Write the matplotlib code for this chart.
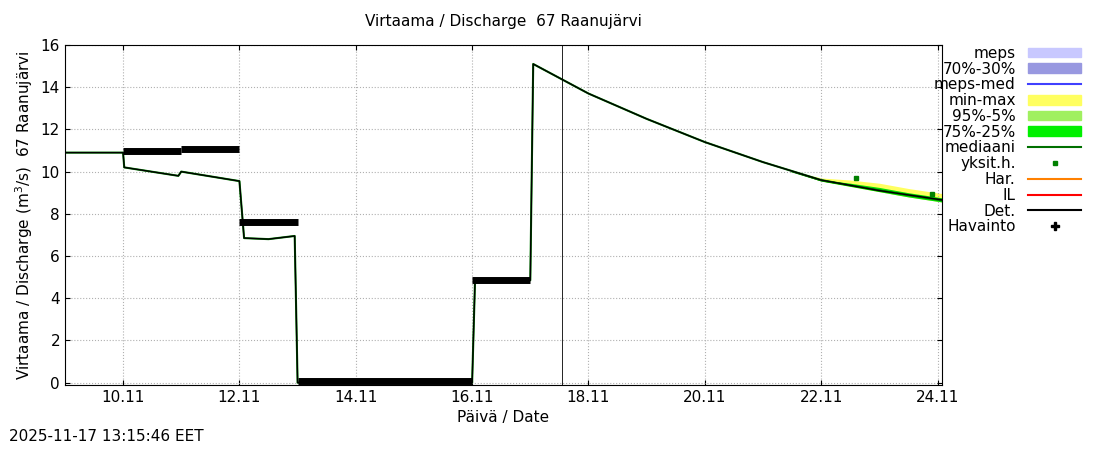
import matplotlib
matplotlib.use("Agg")
import matplotlib.pyplot as plt
from matplotlib.lines import Line2D
from matplotlib.patches import Patch

# x in days of November
det_x = [9.0, 10.0, 10.02, 10.95, 11.0, 12.0, 12.08, 12.5, 12.95, 13.0, 16.0, 16.05, 17.0, 17.05, 18.0, 19.0, 20.0, 21.0, 22.0, 23.0, 24.1]
det_y = [10.9, 10.9, 10.2, 9.8, 10.0, 9.55, 6.85, 6.8, 6.95, 0.0, 0.0, 4.85, 4.85, 15.1, 13.7, 12.5, 11.4, 10.45, 9.6, 9.1, 8.65]
obs_segments = [(10.0, 11.0, 11.0), (11.0, 12.0, 11.05), (12.0, 13.0, 7.6), (13.0, 16.0, 0.1), (16.0, 17.0, 4.85)]
band_x = [21.5, 22.0, 22.5, 23.0, 23.5, 24.1]
minmax_lo = [10.0, 9.55, 9.3, 9.05, 8.8, 8.55]
minmax_hi = [10.02, 9.7, 9.6, 9.45, 9.2, 8.95]
q_lo = [10.0, 9.55, 9.3, 9.05, 8.8, 8.55]
q_hi = [10.01, 9.62, 9.45, 9.25, 9.0, 8.75]
med_y = [10.0, 9.58, 9.35, 9.12, 8.88, 8.62]
single_x = [22.6, 23.9]
single_y = [9.7, 8.95]
xticks = [10, 12, 14, 16, 18, 20, 22, 24]
now_x = 17.55

fig = plt.figure(figsize=(11, 4.5), dpi=100)
ax = fig.add_axes([0.059, 0.145, 0.797, 0.755])
ax.fill_between(band_x, minmax_lo, minmax_hi, color="#ffff60", lw=0)
ax.fill_between(band_x, q_lo, q_hi, color="#00e000", lw=0)
ax.plot(band_x, med_y, color="#007000", lw=1.2)
ax.plot(det_x, det_y, color="#008000", lw=1.5)
ax.plot(det_x, det_y, color="black", lw=1.0)
for a, b, v in obs_segments:
    ax.plot([a, b], [v, v], color="black", lw=5, solid_capstyle="butt")
ax.plot(single_x, single_y, "s", color="#008000", ms=3)
ax.axvline(now_x, color="black", lw=0.6)
ax.set_xlim(9.0, 24.07)
ax.set_ylim(-0.1, 16)
ax.set_xticks(xticks)
ax.set_xticklabels([f"{d}.11" for d in xticks])
ax.set_yticks(range(0, 17, 2))
ax.grid(True, color="#b0b0b0", ls=":", lw=0.8)
ax.tick_params(direction="in", labelsize=11, top=True, right=True)
ax.set_xlabel("Päivä / Date", fontsize=11)
ax.set_ylabel("Virtaama / Discharge (m$^3$/s)  67 Raanujärvi", fontsize=11)
ax.set_title("Virtaama / Discharge  67 Raanujärvi", fontsize=11, pad=14)
handles = [Patch(color="#c8c8ff"), Patch(color="#9898e0"), Line2D([], [], color="#4040ff"),
           Patch(color="#ffff60"), Patch(color="#a0f060"), Patch(color="#00f000"),
           Line2D([], [], color="#007000"), Line2D([], [], marker="s", ls="", color="#008000", ms=3),
           Line2D([], [], color="#ff8000"), Line2D([], [], color="red"), Line2D([], [], color="black"),
           Line2D([], [], marker="P", ls="", color="black", ms=6)]
labels = ["meps", "70%-30%", "meps-med", "min-max", "95%-5%", "75%-25%", "mediaani",
          "yksit.h.", "Har.", "IL", "Det.", "Havainto"]
fig.legend(handles, labels, loc="upper right", bbox_to_anchor=(0.99, 0.915), frameon=False,
           markerfirst=False, fontsize=11, labelspacing=0.05, handlelength=3.5, handleheight=0.6,
           borderpad=0, handletextpad=0.8)
fig.text(0.008, 0.02, "2025-11-17 13:15:46 EET", fontsize=11)
fig.savefig("out.png")
